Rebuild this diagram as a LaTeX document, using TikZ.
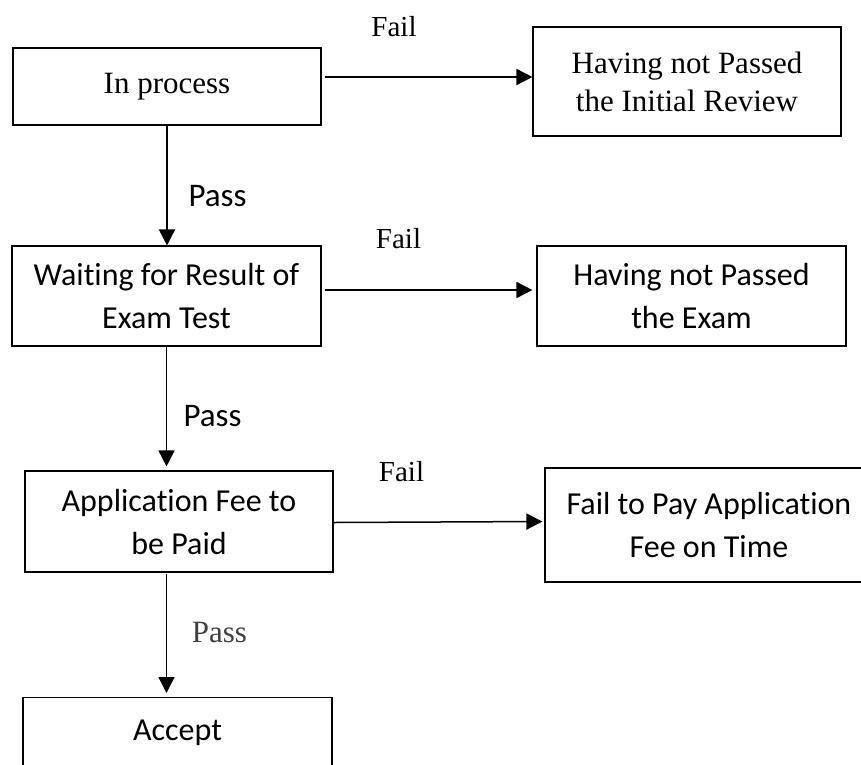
\documentclass[tikz,border=0pt]{standalone}
\usepackage{fontspec}
\setmainfont{Liberation Serif}
\newfontfamily\calibri[Ligatures=NoCommon]{Carlito}
\usetikzlibrary{arrows.meta}
\definecolor{passgray}{HTML}{404040}

\begin{document}
\begin{tikzpicture}[x=1pt, y=-1pt,
	stepbox/.style={draw, line width=1.1pt, inner sep=0pt, align=center},
	serifbox/.style={stepbox, font=\fontsize{31}{38}\selectfont},
	sansbox/.style={stepbox, font=\calibri\fontsize{32}{43}\selectfont},
	flow/.style={-{Triangle[width=16pt, length=16pt]}, line width=1.5pt},
	faillabel/.style={font=\fontsize{29}{34}\selectfont},
	passlabel/.style={font=\calibri\fontsize{33}{40}\selectfont}]
	\clip (0,0) rectangle (861,764);
	
	%left column
	\node[serifbox, minimum width=308pt, minimum height=77pt] (proc) at (167, 86.5){In process};
	\node[sansbox, minimum width=309pt, minimum height=100pt] (examwait) at (166.5, 296){Waiting for Result of\\Exam Test};
	\node[sansbox, minimum width=308pt, minimum height=101pt] (feepay) at (179, 521.5){Application Fee to\\be Paid};
	\node[sansbox, minimum width=309pt, anchor=north, text height=43pt, text depth=60pt] (accept) at (177.5, 697){Accept};
	
	%right column
	\node[serifbox, minimum width=308pt, minimum height=109pt] (initrev) at (687, 81.5){Having not Passed\\the Initial Review};
	\node[sansbox, minimum width=309pt, minimum height=100pt] (examfail) at (691.5, 296){Having not Passed\\the Exam};
	\node[sansbox, minimum width=328pt, minimum height=114pt] (feefail) at (709, 525){Fail to Pay Application\\Fee on Time};
	
	%fail arrows
	\draw[flow] ([xshift=3pt, yshift=9.5pt]proc.east) -- ([yshift=4.5pt]initrev.west);
	\draw[flow] ([xshift=3pt, yshift=6pt]examwait.east) -- ([xshift=-4pt, yshift=6pt]examfail.west);
	\draw[flow] ([yshift=-1pt]feepay.east) -- ([xshift=-2pt, yshift=3.5pt]feefail.west);
	\node[faillabel] (fail1) at (394, 27){Fail};
	\node[faillabel] (fail2) at (398.5, 239){Fail};
	\node[faillabel] (fail3) at (401.5, 472){Fail};
	
	%pass arrows
	\draw[flow] (proc.south) -- (proc.south |- examwait.north);
	\draw[flow, shorten >=4pt] (examwait.south) -- (examwait.south |- feepay.north);
	\draw[flow, shorten >=4pt] ([yshift=-1pt]examwait.south |- feepay.south) -- (examwait.south |- accept.north);
	\node[passlabel] (pass1) at (217.5, 196){Pass};
	\node[passlabel] (pass2) at (212.5, 416){Pass};
	\node[font=\fontsize{31}{36}\selectfont, text=passgray] (pass3) at (219.5, 632.5){Pass};
\end{tikzpicture}
\end{document}
